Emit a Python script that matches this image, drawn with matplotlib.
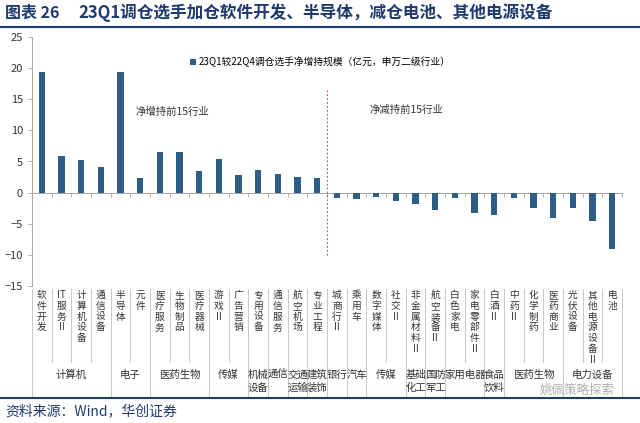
import numpy as np
import matplotlib
matplotlib.use("Agg")
import matplotlib.pyplot as plt
import matplotlib.transforms as mtransforms
from matplotlib.lines import Line2D

plt.rcParams['font.family'] = ['Noto Sans CJK SC', 'DejaVu Sans']

# ---------------- data ----------------
categories = ["软件开发", "IT服务Ⅱ", "计算机设备", "通信设备", "半导体", "元件",
              "医疗服务", "生物制品", "医疗器械", "游戏Ⅱ", "广告营销", "专用设备",
              "通信服务", "航空机场", "专业工程",
              "城商行Ⅱ", "乘用车", "数字媒体", "社交Ⅱ", "非金属材料Ⅱ", "航空装备Ⅱ",
              "白色家电", "家电零部件Ⅱ", "白酒Ⅱ", "中药Ⅱ", "化学制药", "医药商业",
              "光伏设备", "其他电源设备Ⅱ", "电池"]
values = [19.3, 5.95, 5.3, 4.1, 19.3, 2.3, 6.5, 6.5, 3.4, 5.4, 2.9, 3.6, 2.95, 2.5, 2.35,
          -0.9, -0.95, -0.75, -1.3, -1.9, -2.85, -0.9, -3.2, -3.6, -0.8, -2.4, -4.1,
          -2.5, -4.6, -9.1]
group_names = ["计算机", "电子", "医药生物", "传媒", "机械设备", "通信", "交通运输",
               "建筑装饰", "银行", "汽车", "传媒", "基础化工", "国防军工", "家用电器",
               "食品饮料", "医药生物", "电力设备"]
group_sizes = [4, 2, 3, 2, 1, 1, 1, 1, 1, 1, 2, 1, 1, 2, 1, 3, 3]
yticks = [-15, -10, -5, 0, 5, 10, 15, 20, 25]
legend_label = "23Q1较22Q4调仓选手净增持规模（亿元，申万二级行业）"
title_no = "图表 26"
title = "23Q1调仓选手加仓软件开发、半导体，减仓电池、其他电源设备"
source = "资料来源：Wind，华创证券"

# ---------------- style ----------------
W, H = 640, 423
navy = "#1F3A6E"
bar_color = "#2E5D87"
grey = "#A6A6A6"
sep_color = "#C8C8C8"

fig = plt.figure(figsize=(W / 100, H / 100), dpi=100)
fy = lambda px: 1 - px / H

ax = fig.add_axes([32 / W, fy(286), (622 - 32) / W, (286 - 37) / H])
x = np.arange(len(categories))
ax.bar(x, values, width=0.31, color=bar_color, label=legend_label, zorder=3)
ax.set_xlim(-0.5, len(categories) - 0.5)
ax.set_ylim(-15, 25)
ax.set_yticks(yticks)
ax.tick_params(axis='y', labelsize=8, colors='#333333', length=3, width=0.6, color=grey)
for s in ['top', 'right']:
    ax.spines[s].set_visible(False)
ax.spines['left'].set_color(grey)
ax.spines['left'].set_linewidth(0.7)
ax.spines['bottom'].set_position(('data', 0))
ax.spines['bottom'].set_color(grey)
ax.spines['bottom'].set_linewidth(0.7)
ax.set_xticks(np.arange(-0.5, len(categories), 1.0))
ax.set_xticklabels([])
ax.tick_params(axis='x', length=3, width=0.6, color=grey, direction='out')

# dashed separator
ax.plot([14.5, 14.5], [-10, 16.5], color='#C0504D', ls=(0, (1.5, 2)), lw=0.8, zorder=2)

# annotations
ax.text(6.62, 12.95, "净增持前15行业", fontsize=7.5, color='#333333', ha='center', va='center')
ax.text(18.56, 13.27, "净减持前15行业", fontsize=7.5, color='#333333', ha='center', va='center')

# legend
ax.legend(loc='center left', bbox_to_anchor=(190 / W, fy(62)), bbox_transform=fig.transFigure,
          frameon=False, fontsize=7, handlelength=0.6, handleheight=0.6,
          handletextpad=0.3, borderaxespad=0, borderpad=0)

# ---------------- category label table ----------------
tr = mtransforms.blended_transform_factory(ax.transData, fig.transFigure)
char_pitch = 10.8
for i, cat in enumerate(categories):
    tokens = []
    j = 0
    while j < len(cat):
        if cat[j:j + 2] == "IT":
            tokens.append("IT"); j += 2
        else:
            tokens.append(cat[j]); j += 1
    for k, ch in enumerate(tokens):
        fig.text(i, fy(295 + k * char_pitch), ch, transform=tr, fontsize=7,
                 color='#333333', ha='center', va='center')

# separators
boundaries = np.cumsum([0] + group_sizes)
group_bounds = set(boundaries.tolist())
for b in range(len(categories) + 1):
    xb = b - 0.5
    bottom = 396 if b in group_bounds else 362
    fig.add_artist(Line2D([xb, xb], [fy(289), fy(bottom)], transform=tr,
                          color=sep_color, lw=0.7))

for g, name in enumerate(group_names):
    center = (boundaries[g] + boundaries[g + 1] - 1) / 2
    if group_sizes[g] == 1 and len(name) == 4:
        lines = [name[:2], name[2:]]
    else:
        lines = [name]
    for k, ln in enumerate(lines):
        fig.text(center, fy(375 + k * 13), ln, transform=tr, fontsize=7.5,
                 color='#333333', ha='center', va='center')

# ---------------- title / footer ----------------
fig.text(5 / W, fy(13), title_no, fontsize=11.5, fontweight='bold', color=navy,
         ha='left', va='center')
fig.text(78 / W, fy(13), title, fontsize=12, fontweight='bold', color=navy,
         ha='left', va='center')
fig.add_artist(Line2D([0, 1], [fy(27), fy(27)], transform=fig.transFigure, color=navy, lw=1.5))
fig.add_artist(Line2D([0, 1], [fy(398), fy(398)], transform=fig.transFigure, color=navy, lw=1.5))
fig.text(5 / W, fy(411), source, fontsize=10, style='italic', color=navy, ha='left', va='center')
fig.text(615 / W, fy(390), "姚佩策略探索", fontsize=9, color='#9A9A9A', alpha=0.8,
         ha='right', va='center')

fig.savefig("out.png", dpi=100)
